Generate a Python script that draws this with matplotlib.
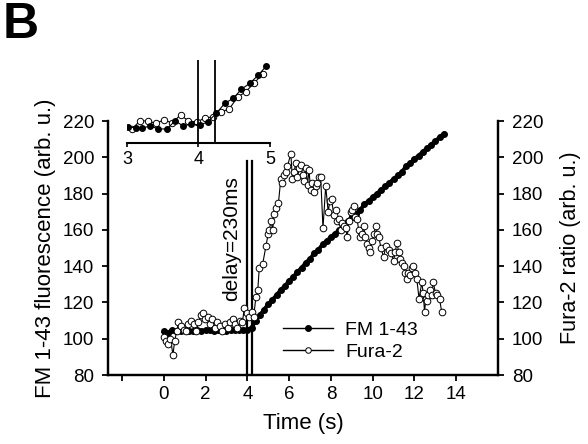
import matplotlib
matplotlib.use('Agg')
import matplotlib.pyplot as plt
from matplotlib.lines import Line2D

plt.rcParams['font.family'] = ['Liberation Sans', 'DejaVu Sans']

# FM 1-43 fluorescence (left axis)
fm_time = [0.0, 0.2, 0.4, 0.6, 0.8, 1.0, 1.2, 1.4, 1.6, 1.8, 2.0, 2.2, 2.4, 2.6, 2.8,
           3.0, 3.2, 3.4, 3.6, 3.8, 4.0, 4.2, 4.4, 4.6, 4.8, 5.0, 5.2, 5.4, 5.6, 5.8,
           6.0, 6.2, 6.4, 6.6, 6.8, 7.0, 7.2, 7.4, 7.6, 7.8, 8.0, 8.2, 8.4, 8.6, 8.8,
           9.0, 9.2, 9.4, 9.6, 9.8, 10.0, 10.2, 10.4, 10.6, 10.8, 11.0, 11.2, 11.4, 11.6,
           11.8, 12.0, 12.2, 12.4, 12.6, 12.8, 13.0, 13.2, 13.4]
fm_value = [104, 103, 105, 104, 104, 105, 104, 104, 105, 104, 105, 105, 104, 105, 105,
            104, 105, 105, 105, 105, 105, 106, 110, 113, 116, 119, 121.5, 124, 127, 129,
            132, 134, 137, 139, 142, 144, 147, 149, 152, 154, 156, 158, 160, 162, 165,
            167, 169, 171, 174, 176, 178, 180, 182, 184, 186, 188, 190, 192, 195,
            197, 199, 201, 203, 205, 207, 209, 211, 213]

# Fura-2 ratio (right axis)
fura_time = [0.00, 0.10, 0.22, 0.32, 0.44, 0.52, 0.62, 0.70, 0.84, 0.96, 1.08, 1.18, 1.32,
             1.44, 1.56, 1.66, 1.76, 1.88, 1.98, 2.10, 2.20, 2.30, 2.44, 2.56, 2.68, 2.80,
             2.92, 3.06, 3.18, 3.30, 3.40, 3.52, 3.64, 3.76, 3.86, 3.96, 4.08, 4.20, 4.30,
             4.41, 4.50, 4.57, 4.73, 4.89, 5.00, 5.05, 5.13, 5.21, 5.29, 5.37, 5.49, 5.60,
             5.68, 5.76, 5.84, 5.92, 6.08, 6.16, 6.24, 6.32, 6.40, 6.48, 6.56, 6.64, 6.72,
             6.80, 6.88, 6.95, 7.03, 7.11, 7.19, 7.27, 7.35, 7.43, 7.51, 7.62, 7.75, 7.87,
             7.95, 8.03, 8.14, 8.22, 8.30, 8.38, 8.46, 8.54, 8.62, 8.70, 8.78, 8.86, 8.94,
             9.02, 9.10, 9.17, 9.25, 9.33, 9.41, 9.49, 9.57, 9.65, 9.73, 9.81, 9.89, 9.97,
             10.05, 10.16, 10.22, 10.29, 10.40, 10.52, 10.63, 10.76, 10.88, 11.00, 11.08,
             11.16, 11.24, 11.32, 11.40, 11.48, 11.56, 11.63, 11.71, 11.79, 11.87, 11.95,
             12.03, 12.11, 12.22, 12.35, 12.42, 12.48, 12.55, 12.59, 12.67, 12.75, 12.82,
             12.90, 13.01, 13.10, 13.20, 13.30]
fura_value = [101, 99, 97, 100, 91, 99, 104, 109, 107, 105, 104, 108, 110,
              108, 104, 109, 113, 114, 111, 112, 108, 111, 106, 109, 107, 104,
              108, 106, 109, 111, 108, 106, 110, 109, 117, 114, 112, 115, 112,
              123, 127, 139, 141, 151, 158, 160, 165, 160, 169, 172, 175, 188,
              186, 190, 192, 195, 202, 188, 192, 197, 189, 194, 196, 190, 187,
              194, 185, 193, 182, 186, 181, 184, 186, 189, 189, 161, 184, 170,
              176, 177, 168, 171, 165, 166, 160, 164, 162, 161, 156, 165, 170,
              171, 173, 167, 166, 160, 156, 158, 162, 156, 152, 150, 148, 154,
              158, 162, 158, 156, 150, 145, 151, 149, 147, 143, 148,
              153, 148, 144, 142, 140, 136, 133, 136, 135, 139, 140,
              136, 133, 122, 131, 125, 115, 122, 121, 124, 127, 124,
              131, 125, 124, 122, 115]

# inset (3-5 s, arbitrary units)
inset_fm_time = [3.02, 3.13, 3.21, 3.32, 3.44, 3.56, 3.67, 3.79, 3.90, 4.02, 4.13,
                 4.25, 4.37, 4.49, 4.60, 4.72, 4.84, 4.95]
inset_fm_value = [16, 15, 14.7, 17, 14, 14, 22, 17, 19, 18, 21,
                  29.7, 39.7, 44.7, 53.7, 59.7, 68, 77]
inset_fura_time = [3.07, 3.18, 3.29, 3.40, 3.52, 3.63, 3.75, 3.86, 3.98, 4.09, 4.20,
                   4.32, 4.43, 4.55, 4.66, 4.78, 4.90]
inset_fura_value = [14, 22, 22, 19.7, 23, 20, 28, 22, 21, 25, 26,
                    31, 34, 46, 51, 60, 69]

stim_on = 4.0
stim_delay = 4.23

fig = plt.figure(figsize=(5.88, 4.44), dpi=100)
ax = fig.add_axes([0.1837, 0.1554, 0.6633, 0.572])
ax2 = ax.twinx()

ax.plot(fm_time, fm_value, '-', color='black', lw=2.8, marker='o', ms=4,
        mfc='black', mec='black', zorder=3)
ax2.plot(fura_time, fura_value, '-', color='black', lw=0.8, marker='o', ms=4.8,
         mfc='white', mec='black', mew=0.7, zorder=2)

for t in (stim_on, stim_delay):
    ax.plot([t, t], [80, 198], color='black', lw=1.6, zorder=4)
ax.text(3.25, 155, 'delay=230ms', rotation=90, ha='center', va='center', fontsize=15)

ax.set_xlim(-2.67, 16)
ax.set_ylim(80, 220)
ax2.set_ylim(80, 220)
ax.set_xticks([-2, 0, 2, 4, 6, 8, 10, 12, 14])
ax.set_xticklabels(['', '0', '2', '4', '6', '8', '10', '12', '14'])
ax.set_yticks(range(80, 221, 20))
ax2.set_yticks(range(80, 221, 20))

for a in (ax, ax2):
    a.spines['top'].set_visible(False)
    for s in ('left', 'right', 'bottom'):
        a.spines[s].set_linewidth(1.6)
    a.tick_params(direction='out', length=4, width=1.3, labelsize=13.5, pad=6)
ax.tick_params(axis='x', pad=4)
ax.patch.set_alpha(0)

ax.set_xlabel('Time (s)', fontsize=16, labelpad=7)
ax.set_ylabel('FM 1-43 fluorescence (arb. u.)', fontsize=16, labelpad=5)
ax2.set_ylabel('Fura-2 ratio (arb. u.)', fontsize=15.5, labelpad=12)

handles = [Line2D([], [], color='black', lw=1, marker='o', ms=4, mfc='black', mec='black'),
           Line2D([], [], color='black', lw=1, marker='o', ms=4, mfc='white', mec='black', mew=0.7)]
fig.legend(handles, ['FM 1-43', 'Fura-2'], loc='center left',
           bbox_to_anchor=(0.481, 0.232), frameon=False, fontsize=14,
           handlelength=2.6, handletextpad=0.6, labelspacing=0.25,
           borderpad=0, borderaxespad=0, numpoints=1)

# inset
axi = fig.add_axes([0.216, 0.678, 0.243, 0.187])
axi.plot(inset_fm_time, inset_fm_value, '-', color='black', lw=0.8, marker='o', ms=4,
         mfc='black', mec='black', zorder=3)
axi.plot(inset_fura_time, inset_fura_value, '-', color='black', lw=0.8, marker='o', ms=4.6,
         mfc='white', mec='black', mew=0.7, zorder=2)
for t in (stim_on, stim_delay):
    axi.plot([t, t], [0, 83], color='black', lw=1.3, zorder=4)
axi.set_xlim(3, 5)
axi.set_ylim(0, 83)
axi.set_xticks([3, 4, 5])
axi.set_yticks([])
for s in ('left', 'right', 'top'):
    axi.spines[s].set_visible(False)
axi.spines['bottom'].set_linewidth(1.5)
axi.tick_params(direction='out', length=3, width=1.2, labelsize=13, pad=3)
axi.patch.set_alpha(0)

fig.text(0.005, 0.995, 'B', fontsize=36, fontweight='bold', ha='left', va='top')

fig.savefig('out.png', dpi=100)
